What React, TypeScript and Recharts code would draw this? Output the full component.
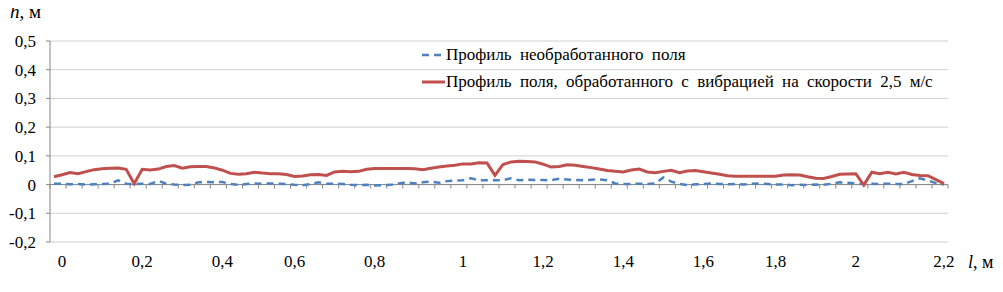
import React from 'react';
import { LineChart, Line, XAxis, YAxis, CartesianGrid, ReferenceLine, Legend } from 'recharts';

// Profile heights, m (one value per measured point along the field)
const treatedValues = [
  0.027, 0.034, 0.042, 0.038, 0.045, 0.052, 0.055, 0.057, 0.058, 0.053,
  0.003, 0.053, 0.051, 0.054, 0.063, 0.066, 0.057, 0.062, 0.063, 0.063,
  0.058, 0.050, 0.039, 0.036, 0.038, 0.043, 0.040, 0.038, 0.038, 0.035,
  0.028, 0.030, 0.034, 0.035, 0.032, 0.044, 0.046, 0.045, 0.046, 0.053,
  0.056, 0.056, 0.056, 0.056, 0.056, 0.055, 0.052, 0.057, 0.061, 0.065,
  0.067, 0.072, 0.072, 0.076, 0.075, 0.032, 0.070, 0.079, 0.081, 0.080,
  0.079, 0.071, 0.061, 0.063, 0.069, 0.067, 0.063, 0.059, 0.054, 0.049,
  0.046, 0.044, 0.051, 0.054, 0.044, 0.041, 0.046, 0.050, 0.041, 0.047,
  0.049, 0.045, 0.040, 0.036, 0.031, 0.029, 0.029, 0.029, 0.029, 0.029,
  0.029, 0.033, 0.034, 0.033, 0.027, 0.022, 0.021, 0.028, 0.036, 0.037,
  0.038, -0.002, 0.043, 0.038, 0.043, 0.037, 0.043, 0.035, 0.032, 0.031,
  0.017, 0.003,
];

const untreatedValues = [
  0.003, 0.003, 0.001, 0.002, 0.000, 0.001, 0.002, 0.003, 0.015, 0.003,
  0.002, 0.003, 0.002, 0.013, 0.003, 0.000, -0.002, -0.001, 0.008, 0.009,
  0.008, 0.009, 0.002, -0.001, 0.002, 0.004, 0.003, 0.004, 0.003, 0.002,
  -0.001, -0.002, 0.002, 0.008, 0.003, 0.003, 0.002, -0.001, -0.002, -0.001,
  -0.003, -0.002, -0.001, 0.004, 0.008, 0.004, 0.008, 0.010, 0.006, 0.012,
  0.014, 0.015, 0.022, 0.015, 0.015, 0.015, 0.015, 0.022, 0.015, 0.017,
  0.016, 0.016, 0.015, 0.020, 0.018, 0.016, 0.015, 0.017, 0.018, 0.015,
  0.004, 0.002, 0.002, 0.003, 0.002, 0.004, 0.025, 0.010, 0.002, -0.002,
  0.001, 0.002, 0.004, 0.002, 0.001, 0.002, 0.000, 0.003, 0.004, 0.002,
  0.000, 0.000, -0.002, -0.001, -0.002, 0.000, -0.001, 0.003, 0.008, 0.006,
  0.004, 0.002, 0.003, 0.002, 0.003, 0.002, 0.002, 0.012, 0.022, 0.014,
  0.005, 0.000,
];

const xTickLabels = ['0', '0,2', '0,4', '0,6', '0,8', '1', '1,2', '1,4', '1,6', '1,8', '2', '2,2'];
const xTickCategory = [1, 11, 21, 30, 40, 51, 61, 71, 81, 90, 100, 111];
const yTicks = [-0.2, -0.1, 0, 0.1, 0.2, 0.3, 0.4, 0.5];

const untreatedName = 'Профиль необработанного поля';
const treatedName = 'Профиль поля, обработанного с вибрацией на скорости 2,5 м/с';

const categoryCount = treatedValues.length;
const data = treatedValues.map((v, i) => ({ x: i + 0.5, treated: v, untreated: untreatedValues[i] }));
const tickPositions = xTickCategory.map((i) => i + 0.5);
const zeroTicks = Array.from({ length: categoryCount / 2 + 1 }, (_, k) => k * 2);

const FONT = '"Liberation Serif", "Tinos", "Times New Roman", "Noto Serif", "DejaVu Serif", Times, serif';
const RED = '#C0504D';
const BLUE = '#4F81BD';
const AXIS = '#868686';
const GRID = '#D0D0D0';

const fmt = (v: number) => (Math.round(v * 10) / 10).toString().replace('.', ',');

const LegendContent = () => (
  <div style={{ fontFamily: FONT, fontSize: 17, color: '#000', wordSpacing: 4, textAlign: 'left', whiteSpace: 'nowrap' }}>
    <div style={{ display: 'flex', alignItems: 'center', height: 27 }}>
      <svg width={26} height={10}>
        <line x1={2} y1={5} x2={22} y2={5} stroke={BLUE} strokeWidth={2.5} strokeDasharray="7 5" />
      </svg>
      <span>{untreatedName}</span>
    </div>
    <div style={{ display: 'flex', alignItems: 'center', height: 27 }}>
      <svg width={26} height={10}>
        <line x1={2} y1={5} x2={25} y2={5} stroke={RED} strokeWidth={3} />
      </svg>
      <span>{treatedName}</span>
    </div>
  </div>
);

export default function App() {
  return (
    <div style={{ position: 'relative', margin: -8, width: 1003, height: 292, background: '#fff', overflow: 'hidden', fontFamily: FONT }}>
      <LineChart width={1003} height={292} data={data} margin={{ top: 41, right: 55, bottom: 20, left: 0 }}>
        <CartesianGrid vertical={false} stroke={GRID} />
        <XAxis
          type="number"
          dataKey="x"
          domain={[0, categoryCount]}
          ticks={tickPositions}
          interval={0}
          tickFormatter={(v: number) => xTickLabels[tickPositions.indexOf(v)] ?? ''}
          axisLine={false}
          tickLine={false}
          height={30}
          tickMargin={7}
          tick={{ fontFamily: FONT, fontSize: 17, fill: '#000' }}
        />
        <YAxis
          type="number"
          domain={[-0.2, 0.5]}
          ticks={yTicks}
          interval={0}
          tickFormatter={fmt}
          width={50}
          axisLine={{ stroke: AXIS }}
          tickLine={{ stroke: AXIS }}
          tickSize={4}
          tickMargin={10}
          tick={{ fontFamily: FONT, fontSize: 17, fill: '#000' }}
        />
        <ReferenceLine y={0} stroke={AXIS} />
        {zeroTicks.map((k) => (
          <ReferenceLine
            key={k}
            segment={[{ x: k, y: 0 }, { x: k, y: -0.014 }]}
            stroke={AXIS}
            ifOverflow="visible"
          />
        ))}
        <Line
          type="linear"
          dataKey="untreated"
          name={untreatedName}
          stroke={BLUE}
          strokeWidth={2.5}
          strokeDasharray="7 5"
          dot={false}
          isAnimationActive={false}
        />
        <Line
          type="linear"
          dataKey="treated"
          name={treatedName}
          stroke={RED}
          strokeWidth={3}
          dot={false}
          isAnimationActive={false}
        />
        <Legend
          layout="vertical"
          align="center"
          verticalAlign="middle"
          content={LegendContent}
          wrapperStyle={{ position: 'absolute', left: 420, top: 41, width: 580 }}
        />
      </LineChart>
      <div style={{ position: 'absolute', left: 10, top: 1, fontFamily: FONT, fontSize: 19, color: '#000' }}>
        <i>h</i>, м
      </div>
      <div style={{ position: 'absolute', left: 968, top: 252, fontFamily: FONT, fontSize: 18, color: '#000' }}>
        <i>l</i>, м
      </div>
    </div>
  );
}
